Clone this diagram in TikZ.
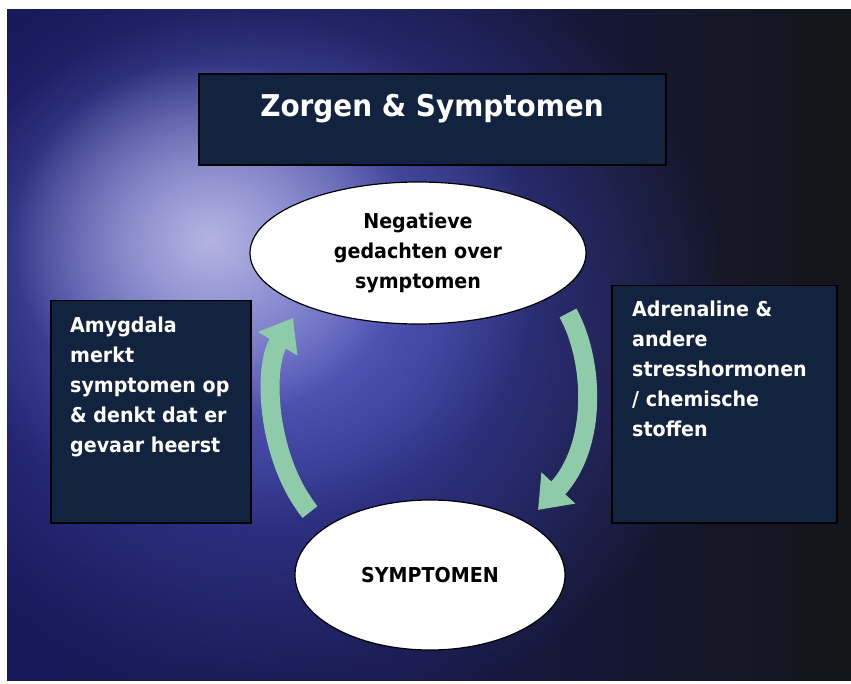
\documentclass[tikz,border=0pt]{standalone}
\usepackage{fontspec}
\setmainfont{DejaVu Sans}[FakeStretch=0.93]
\usetikzlibrary{arrows.meta,shapes.geometric,fadings}

\definecolor{slidedark}{HTML}{141619}
\definecolor{slidenavy}{HTML}{18195A}
\definecolor{glowblue}{HTML}{4248B4}
\definecolor{glowlilac}{HTML}{B4B4E2}
\definecolor{boxnavy}{HTML}{12233F}
\definecolor{arrowgreen}{HTML}{8FCBA8}

\tikzfading[name=glowfade, inner color=transparent!0, outer color=transparent!100]

\begin{document}
\begin{tikzpicture}[x=1pt,y=-1pt,
  panel/.style={draw=black, line width=1.5pt, fill=boxnavy},
  paneltext/.style={anchor=north west, text=white, align=left, inner sep=0pt,
    font=\fontsize{20.5}{30}\selectfont\bfseries},
  bubble/.style={ellipse, draw=black, line width=1.2pt, fill=white, inner sep=0pt,
    align=center, font=\fontsize{20.5}{30}\selectfont\bfseries},
  cyclearrow/.style={draw=arrowgreen, line width=19pt,
    -{Triangle[width=44pt,length=30pt]}}]
\useasboundingbox (0,0) rectangle (851,684);

% slide background
\fill [white] (0,0) rectangle (851,684);
\begin{scope}
\clip (7,10) rectangle (851,680);
\shade [left color=slidenavy, right color=slidedark, middle color=slidenavy!70!slidedark] (7,10) rectangle (851,680);
\fill [glowblue, path fading=glowfade] (300,320) ellipse (430pt and 400pt);
\fill [glowblue!70!glowlilac, path fading=glowfade] (240,270) ellipse (300pt and 260pt);
\fill [glowlilac, path fading=glowfade] (210,240) ellipse (200pt and 180pt);
\end{scope}

% title
\node [panel, minimum width=467pt, minimum height=91pt] (titlebox) at (432.5,119.5) {};
\node [anchor=base, text=white, inner sep=0pt, font=\fontsize{30}{36}\selectfont\bfseries] (title) at (432,117) {Zorgen \& Symptomen};

% cycle arrows
\coordinate (leftfoot) at (310,512);
\coordinate (lefttip) at (293,318);
\coordinate (rightfoot) at (568,313);
\coordinate (righttip) at (538,510);
\draw [cyclearrow] (leftfoot) .. controls (268,460) and (262,370) .. (lefttip);
\draw [cyclearrow] (rightfoot) .. controls (594,360) and (598,445) .. (righttip);

% side panels
\node [panel, minimum width=200pt, minimum height=222pt, anchor=north west] (amygdala) at (50,300) {};
\node [paneltext] (amygdalatext) at ([xshift=20pt,yshift=-17pt]amygdala.north west)
  {Amygdala\\merkt\\symptomen op\\\& denkt dat er\\gevaar heerst};
\node [panel, minimum width=225pt, minimum height=237pt, anchor=north west] (hormonen) at (611,285) {};
\node [paneltext] (hormonentext) at ([xshift=21pt,yshift=-16pt]hormonen.north west)
  {Adrenaline \&\\andere\\stresshormonen\\/ chemische\\stoffen};

% ellipses
\node [bubble, minimum width=336pt, minimum height=142pt] (gedachten) at (418,253)
  {Negatieve\\gedachten over\\symptomen};
\node [bubble, minimum width=270pt, minimum height=150pt] (symptomen) at (430,575) {SYMPTOMEN};
\end{tikzpicture}
\end{document}
